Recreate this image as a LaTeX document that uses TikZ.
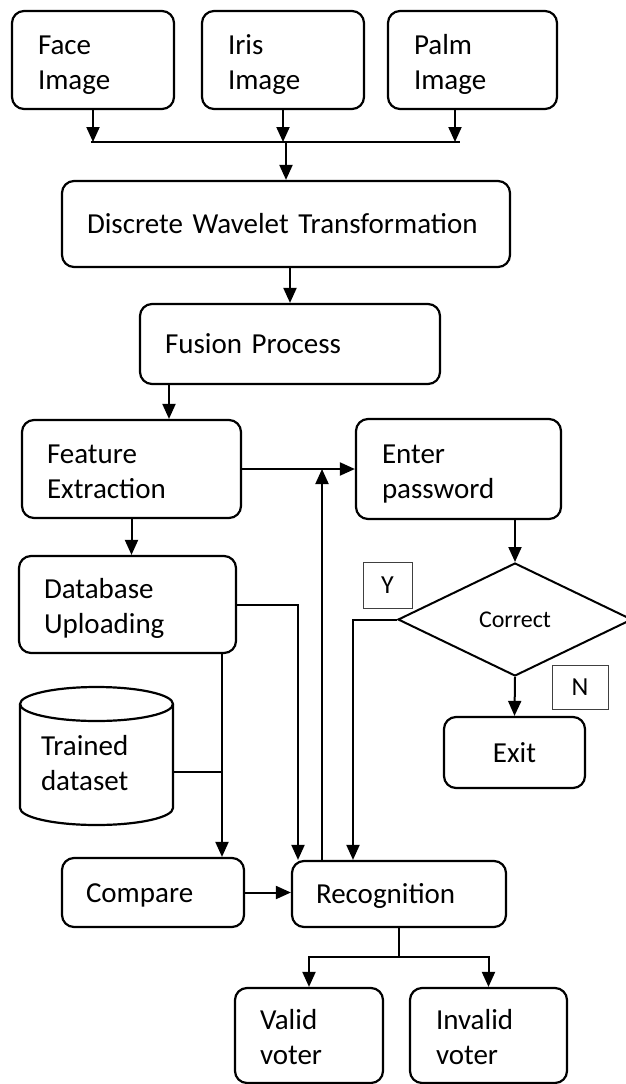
\documentclass[tikz,border=0pt]{standalone}
\usepackage{fontspec}
\setmainfont{Carlito}
\usepackage{tikz}
\usetikzlibrary{arrows.meta,shapes.geometric}

\tikzset{
  stage/.style={draw, line width=2.2pt, rounded corners=12pt, inner sep=0pt, align=left, font=\fontsize{29}{35}\selectfont},
  two/.style={text height=28pt, text depth=40pt},
  one/.style={text height=19pt, text depth=0pt},
  flag/.style={draw=black!75, line width=0.8pt, inner sep=0pt, font=\fontsize{26}{30}\selectfont},
  arr/.style={line width=2pt, -{Triangle[length=15pt,width=13pt]}},
  wire/.style={line width=2pt},
}

\begin{document}
\begin{tikzpicture}[x=1pt,y=-1pt]
	\useasboundingbox (0,0) rectangle (625,1084);

	\node[stage,two,minimum width=162pt,minimum height=98pt,text width=110pt] (face) at (93,60) {Face\\Image};
	\node[stage,two,minimum width=162pt,minimum height=98pt,text width=110pt] (iris) at (283,60) {Iris\\Image};
	\node[stage,two,minimum width=169pt,minimum height=98pt,text width=117pt] (palm) at (472.5,60) {Palm\\Image};
	\node[stage,one,minimum width=448pt,minimum height=86pt,text width=398pt] (dwt) at (286,224) {Discrete Wavelet Transformation};
	\node[stage,one,minimum width=300pt,minimum height=80pt,text width=250pt] (fusion) at (290,344) {Fusion Process};
	\node[stage,two,minimum width=219pt,minimum height=98pt,text width=169pt] (feature) at (131.5,469) {Feature\\Extraction};
	\node[stage,two,minimum width=205pt,minimum height=100pt,text width=153pt] (enter) at (458.5,469) {Enter\\password};
	\node[stage,two,minimum width=217pt,minimum height=97pt,text width=167pt] (dbup) at (127.5,604.5) {Database\\Uploading};
	\node[draw,diamond,line width=2pt,inner sep=0pt,minimum width=234pt,minimum height=113pt,font=\fontsize{24}{28}\selectfont] (chk) at (515,619.5) {Correct};
	\node[flag,minimum width=49pt,minimum height=46pt] (yes) at (387.5,585) {Y};
	\node[flag,minimum width=56pt,minimum height=44pt] (no) at (580,687) {N};
	\node[stage,one,align=center,minimum width=141pt,minimum height=71pt] (exit) at (514.5,752.5) {Exit};
	\node[inner sep=0pt,two,align=left,minimum width=153pt,minimum height=138pt,text width=111pt,font=\fontsize{29}{35}\selectfont] (dataset) at (96.5,761) {Trained\\dataset};
	\node[stage,one,minimum width=182pt,minimum height=69pt,text width=134pt] (compare) at (153,892.5) {Compare};
	\node[stage,one,minimum width=214pt,minimum height=66pt,text width=166pt] (recog) at (399,894) {Recognition};
	\node[stage,two,minimum width=148pt,minimum height=95pt,text width=98pt] (valid) at (309,1035.5) {Valid\\voter};
	\node[stage,two,minimum width=157pt,minimum height=95pt,text width=105pt] (invalid) at (488.5,1035.5) {Invalid\\voter};

	\draw[line width=2.2pt] (96.5,704) ellipse [x radius=76.5pt, y radius=17pt];
	\draw[line width=2.2pt] (20,704) -- (20,808) arc[start angle=180, end angle=360, x radius=76.5pt, y radius=17pt] -- (173,704);

	\coordinate (busL) at (91,142);
	\coordinate (busR) at (460,142);
	\coordinate (palmtap) at (455,142);
	\coordinate (fx) at (169,0);
	\coordinate (cmpx) at (222,0);
	\coordinate (dbx) at (298,0);
	\coordinate (upx) at (322,0);
	\coordinate (ydrop) at (353,0);

	\draw[wire] (busL) -- (busR);
	\draw[arr] (face.south) -- (face.south |- busL);
	\draw[arr] (iris.south) -- (iris.south |- busL);
	\draw[arr] (palm.south -| palmtap) -- (palmtap);
	\draw[arr] (dwt.north |- busL) -- (dwt.north);
	\draw[arr] (fusion.north |- dwt.south) -- (fusion.north);
	\draw[arr] (fusion.south -| fx) -- (feature.north -| fx);
	\draw[arr] (feature.east) -- (enter.west);
	\draw[arr] (feature.south) -- (feature.south |- dbup.north);
	\draw[arr] (chk.north |- enter.south) -- (chk.north);
	\draw[arr] (chk.south) -- (exit.north);
	\draw[arr] (chk.west) -| (recog.north -| ydrop);
	\draw[arr] (recog.north -| upx) -- (feature.east -| upx);
	\draw[arr] (dbup.east) -| (recog.north -| dbx);
	\draw[arr] (dbup.south -| cmpx) -- (compare.north -| cmpx);
	\draw[wire] ([yshift=-11pt]dataset.east) -- ([yshift=-11pt]dataset.east -| cmpx);
	\draw[arr] (compare.east) -- (compare.east -| recog.west);
	\draw[arr] (recog.south) -- ++(0,29) -| (valid.north);
	\draw[arr] (recog.south) -- ++(0,29) -| (invalid.north);
\end{tikzpicture}
\end{document}
